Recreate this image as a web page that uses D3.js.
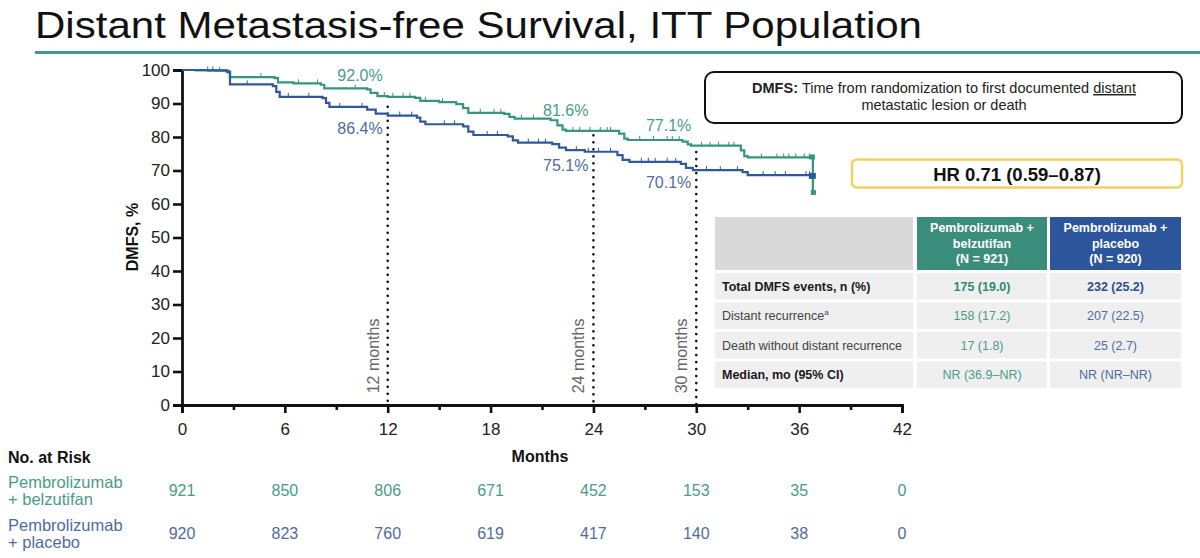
<!DOCTYPE html>
<html>
<head>
<meta charset="utf-8">
<script src="https://cdn.jsdelivr.net/npm/d3@7"></script>
<style>
  body { margin: 0; background: #fff; }
  svg { display: block; font-family: "Liberation Sans", Arial, sans-serif; }
</style>
</head>
<body>
<div id="chart"></div>
<script>
// KM step points [month, DMFS %]
const belzSteps = [[0,100],[0.8,99.9],[2.0,99.8],[2.7,99.2],[2.8,97.9],[5.4,97.6],[5.6,96.3],[6.5,96.0],[8.1,95.6],[8.3,94.5],
  [10.8,94.2],[11.0,93.2],[11.4,92.2],[12.0,92.0],[13.6,91.7],[13.9,90.8],[15.0,90.4],[16.0,89.8],[16.4,88.6],[16.7,87.2],
  [18.8,86.9],[19.1,86.0],[19.4,85.5],[21.5,85.0],[21.9,83.5],[22.2,82.2],[22.4,81.8],[25.5,81.0],[25.8,79.5],[26.0,79.1],
  [29.2,78.6],[29.5,77.8],[29.7,77.4],[32.6,76.0],[32.8,74.3],[33.0,73.9],[36.8,63.6]];
const placeboSteps = [[0,100],[1.5,99.9],[2.6,99.5],[2.8,95.7],[5.3,95.2],[5.5,93.5],[5.7,92.0],[8.2,91.6],[8.4,90.2],[8.6,89.0],
  [10.8,88.2],[11.3,87.0],[12.0,86.4],[13.7,85.8],[13.9,84.6],[14.2,83.8],[16.4,83.2],[16.7,81.6],[17.0,80.6],[19.0,80.2],
  [19.3,79.0],[19.6,78.3],[21.6,77.9],[22.0,76.8],[22.4,76.1],[23.5,75.6],[25.4,74.6],[25.7,73.2],[26.1,72.6],[29.1,72.0],
  [29.4,70.8],[29.8,70.1],[32.7,69.5],[33.0,68.6],[36.8,68.4]];
const belzCensor = [1.5,2.2,4.6,6.8,7.9,10.1,11.8,12.3,12.9,13.3,14.2,15.2,17.4,18.2,18.6,19.8,20.5,22.8,23.2,23.8,24.4,24.8,25.0,
  26.7,27.5,28.3,28.6,29.0,30.3,30.8,31.3,31.9,32.2,33.8,34.7,35.1,35.4,35.8,36.3,36.6];
const placeboCensor = [1.8,3.8,6.2,7.4,9.2,10.5,12.7,13.4,15.3,15.9,17.8,18.4,20.2,20.8,21.2,23.0,23.7,24.3,25.0,26.8,27.2,27.6,
  28.3,28.8,30.6,31.4,32.4,33.9,34.6,35.2,36.4,36.6];

const landmarkMonths = [12, 24, 30];
const landmarkTops = [89, 80.5, 75.5];
const belzLandmark = ["92.0%", "81.6%", "77.1%"];
const belzLandmarkVal = [92.0, 81.6, 77.1];
const placeboLandmark = ["86.4%", "75.1%", "70.1%"];
const placeboLandmarkVal = [86.4, 75.1, 70.1];

const riskMonths = [0, 6, 12, 18, 24, 30, 36, 42];
const riskBelz = [921, 850, 806, 671, 452, 153, 35, 0];
const riskPlacebo = [920, 823, 760, 619, 417, 140, 38, 0];

const headerBelz = ["Pembrolizumab +", "belzutifan", "(N = 921)"];
const headerPlacebo = ["Pembrolizumab +", "placebo", "(N = 920)"];
const rowLabels = ["Total DMFS events, n (%)", "Distant recurrence", "Death without distant recurrence", "Median, mo (95% CI)"];
const belzValues = ["175 (19.0)", "158 (17.2)", "17 (1.8)", "NR (36.9–NR)"];
const placeboValues = ["232 (25.2)", "207 (22.5)", "25 (2.7)", "NR (NR–NR)"];

const GREEN = "#35967a", BLUE = "#30589c";
const GREEN_T = "#4a9c88", BLUE_T = "#4f6ca0";

const W = 1200, H = 558;
const svg = d3.select("#chart").append("svg").attr("width", W).attr("height", H);

// title
svg.append("text").attr("x", 35).attr("y", 38).attr("font-size", 37)
  .attr("textLength", 887).attr("lengthAdjust", "spacingAndGlyphs")
  .attr("fill", "#111").text("Distant Metastasis-free Survival, ITT Population");
svg.append("line").attr("x1", 35).attr("x2", 1200).attr("y1", 52.5).attr("y2", 52.5)
  .attr("stroke", "#46958f").attr("stroke-width", 3);

// scales
const x = d3.scaleLinear().domain([0, 42]).range([182, 902]);
const y = d3.scaleLinear().domain([0, 100]).range([405, 70]);

// axes
const yAxis = svg.append("g").attr("transform", "translate(182,0)")
  .call(d3.axisLeft(y).tickValues(d3.range(0, 101, 10)).tickSize(9).tickPadding(3));
const xAxis = svg.append("g").attr("transform", "translate(0,405)")
  .call(d3.axisBottom(x).tickValues(d3.range(0, 43, 3)).tickSize(8).tickPadding(10)
    .tickFormat(d => d % 6 === 0 ? d : ""));
xAxis.selectAll(".tick line").attr("y2", d => d % 6 === 0 ? 8 : 5);
[yAxis, xAxis].forEach(g => {
  g.select(".domain").attr("stroke", "#111").attr("stroke-width", 2.8);
  g.selectAll(".tick line").attr("stroke", "#111").attr("stroke-width", 2.6);
  g.selectAll(".tick text").attr("font-size", 17).attr("fill", "#222")
    .attr("font-family", "'Liberation Sans', Arial, sans-serif");
});
svg.append("text").attr("transform", "translate(138,237) rotate(-90)").attr("text-anchor", "middle")
  .attr("font-size", 16).attr("font-weight", "bold").attr("fill", "#111").text("DMFS, %");
svg.append("text").attr("x", 540).attr("y", 462).attr("text-anchor", "middle")
  .attr("font-size", 16).attr("font-weight", "bold").attr("fill", "#111").text("Months");

// landmark dotted lines
landmarkMonths.forEach((m, i) => {
  svg.append("line").attr("x1", x(m)).attr("x2", x(m)).attr("y1", y(landmarkTops[i])).attr("y2", y(0))
    .attr("stroke", "#111").attr("stroke-width", 2.6).attr("stroke-linecap", "round")
    .attr("stroke-dasharray", "0,7");
  svg.append("text").attr("transform", `translate(${x(m) - 9},${y(3.5)}) rotate(-90)`)
    .attr("font-size", 16).attr("fill", "#666").text(m + " months");
});

// KM curves
const stepValue = (steps, t) => { let v = steps[0][1]; steps.forEach(s => { if (s[0] <= t) v = s[1]; }); return v; };
const line = d3.line().x(d => x(d[0])).y(d => y(d[1])).curve(d3.curveStepAfter);
[[belzSteps, belzCensor, GREEN], [placeboSteps, placeboCensor, BLUE]].forEach(([steps, cens, col]) => {
  svg.append("path").datum(steps).attr("d", line).attr("fill", "none")
    .attr("stroke", col).attr("stroke-width", 2.2);
  svg.append("g").selectAll("line").data(cens).join("line")
    .attr("x1", d => x(d)).attr("x2", d => x(d))
    .attr("y1", d => y(stepValue(steps, d))).attr("y2", d => y(stepValue(steps, d)) - 4)
    .attr("stroke", col).attr("stroke-width", 1);
});
// end-of-curve marks
svg.append("rect").attr("x", x(36.8) - 4).attr("y", y(stepValue(belzSteps, 36.7)) - 3).attr("width", 6).attr("height", 5).attr("fill", GREEN);
svg.append("rect").attr("x", x(36.8) - 4).attr("y", y(68.4) - 3).attr("width", 7).attr("height", 6).attr("fill", BLUE);
svg.append("rect").attr("x", x(36.8) - 2).attr("y", y(63.6) - 2).attr("width", 5).attr("height", 5).attr("fill", GREEN);

// landmark percent labels
landmarkMonths.forEach((m, i) => {
  svg.append("text").attr("x", x(m) - 5).attr("y", y(belzLandmarkVal[i]) - 16).attr("text-anchor", "end")
    .attr("font-size", 16).attr("fill", GREEN_T).text(belzLandmark[i]);
  svg.append("text").attr("x", x(m) - 5).attr("y", y(placeboLandmarkVal[i]) + 18).attr("text-anchor", "end")
    .attr("font-size", 16).attr("fill", BLUE_T).text(placeboLandmark[i]);
});

// DMFS definition box
svg.append("rect").attr("x", 705).attr("y", 72).attr("width", 477).attr("height", 51).attr("rx", 9)
  .attr("fill", "#fff").attr("stroke", "#111").attr("stroke-width", 2);
const def1 = svg.append("text").attr("x", 944).attr("y", 93).attr("text-anchor", "middle")
  .attr("font-size", 14.5).attr("fill", "#222");
def1.append("tspan").attr("font-weight", "bold").text("DMFS: ");
def1.append("tspan").text("Time from randomization to first documented ");
def1.append("tspan").attr("text-decoration", "underline").text("distant");
svg.append("text").attr("x", 944).attr("y", 110).attr("text-anchor", "middle")
  .attr("font-size", 14.5).attr("fill", "#222").text("metastatic lesion or death");

// HR box
svg.append("rect").attr("x", 852).attr("y", 159.5).attr("width", 330).attr("height", 28).attr("rx", 5)
  .attr("fill", "#fff").attr("stroke", "#f1d264").attr("stroke-width", 2.5);
svg.append("text").attr("x", 1017).attr("y", 180.5).attr("text-anchor", "middle")
  .attr("font-size", 18.5).attr("font-weight", "bold").attr("fill", "#111").text("HR 0.71 (0.59–0.87)");

// events table
const cols = [{x: 715, w: 198}, {x: 917, w: 130}, {x: 1050, w: 131}];
const rowY = d3.scaleBand().domain(d3.range(rowLabels.length)).range([273, 388]).paddingInner(0.1);
svg.append("rect").attr("x", cols[0].x).attr("y", 217).attr("width", cols[0].w).attr("height", 53).attr("fill", "#d9d9d9");
[[headerBelz, cols[1], "#3a8d7b"], [headerPlacebo, cols[2], "#2d559b"]].forEach(([lines, c, fill]) => {
  svg.append("rect").attr("x", c.x).attr("y", 217).attr("width", c.w).attr("height", 53).attr("fill", fill);
  svg.append("g").selectAll("text").data(lines).join("text")
    .attr("x", c.x + c.w / 2).attr("y", (d, i) => 232 + i * 15.5).attr("text-anchor", "middle")
    .attr("font-size", 12.5).attr("font-weight", "bold").attr("fill", "#fff").text(d => d);
});
rowLabels.forEach((lab, i) => {
  const ry = rowY(i), rh = rowY.bandwidth();
  cols.forEach(c => svg.append("rect").attr("x", c.x).attr("y", ry).attr("width", c.w).attr("height", rh).attr("fill", "#efefef"));
  const bold = i === 0 || i === 3;
  const t = svg.append("text").attr("x", 722).attr("y", ry + rh / 2 + 4.5).attr("font-size", 12.5)
    .attr("font-weight", bold ? "bold" : "normal").attr("fill", bold ? "#1a1a1a" : "#444").text(lab);
  if (i === 1) t.append("tspan").attr("font-size", 8).attr("dy", -5).text("a");
  svg.append("text").attr("x", cols[1].x + cols[1].w / 2).attr("y", ry + rh / 2 + 4.5).attr("text-anchor", "middle")
    .attr("font-size", 12.5).attr("font-weight", i === 0 ? "bold" : "normal")
    .attr("fill", i === 0 ? "#2f8a72" : GREEN_T).text(belzValues[i]);
  svg.append("text").attr("x", cols[2].x + cols[2].w / 2).attr("y", ry + rh / 2 + 4.5).attr("text-anchor", "middle")
    .attr("font-size", 12.5).attr("font-weight", i === 0 ? "bold" : "normal")
    .attr("fill", i === 0 ? "#2c4f8f" : BLUE_T).text(placeboValues[i]);
});

// number at risk
svg.append("text").attr("x", 8).attr("y", 463).attr("font-size", 16).attr("font-weight", "bold")
  .attr("fill", "#111").text("No. at Risk");
[[["Pembrolizumab", "+ belzutifan"], riskBelz, GREEN_T, 488], [["Pembrolizumab", "+ placebo"], riskPlacebo, BLUE_T, 531]]
  .forEach(([labs, vals, col, base]) => {
    svg.append("g").selectAll("text").data(labs).join("text")
      .attr("x", 8).attr("y", (d, i) => base + i * 17).attr("font-size", 16.5).attr("fill", col).text(d => d);
    svg.append("g").selectAll("text").data(vals).join("text")
      .attr("x", (d, i) => x(riskMonths[i])).attr("y", base + 8).attr("text-anchor", "middle")
      .attr("font-size", 16).attr("fill", col).text(d => d);
  });
</script>
</body>
</html>
